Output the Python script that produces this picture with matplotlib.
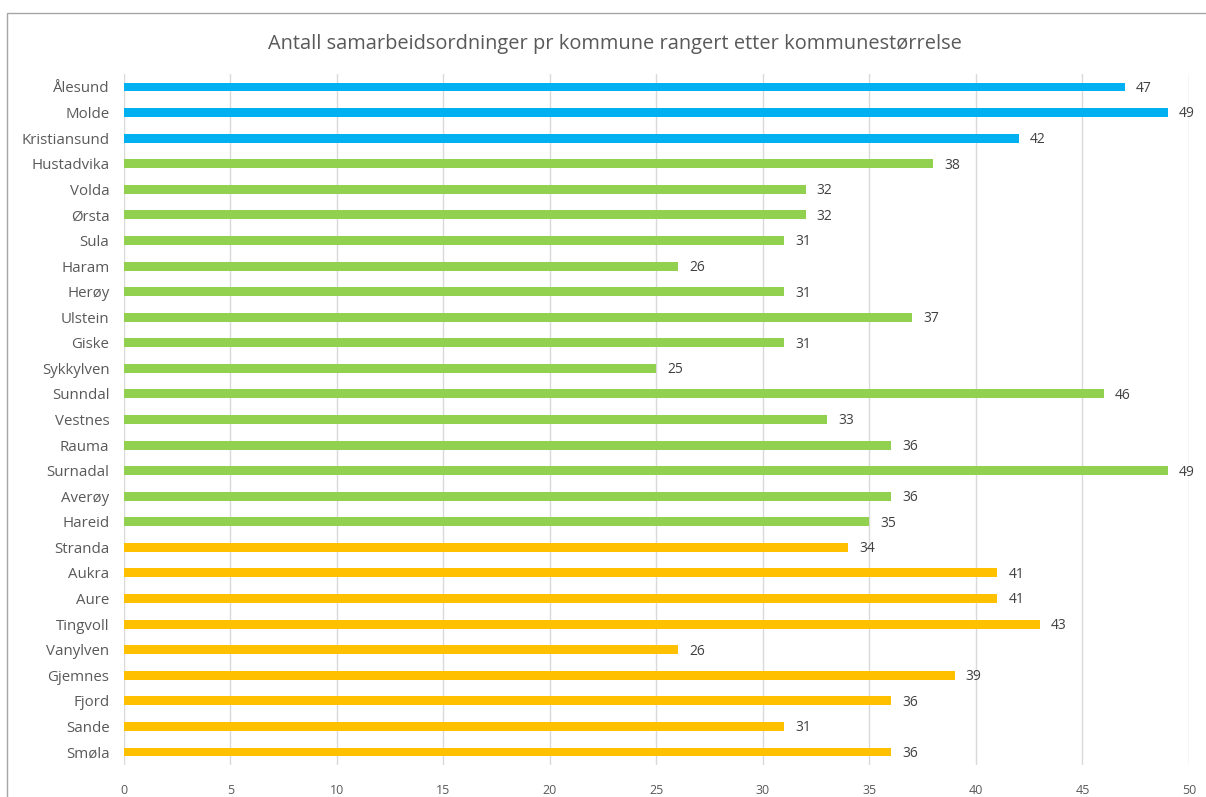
import matplotlib.pyplot as plt
from matplotlib.patches import Rectangle

# Kommuner, fra størst til minst
kommuner = ['Ålesund', 'Molde', 'Kristiansund', 'Hustadvika', 'Volda', 'Ørsta',
            'Sula', 'Haram', 'Herøy', 'Ulstein', 'Giske', 'Sykkylven', 'Sunndal',
            'Vestnes', 'Rauma', 'Surnadal', 'Averøy', 'Hareid', 'Stranda', 'Aukra',
            'Aure', 'Tingvoll', 'Vanylven', 'Gjemnes', 'Fjord', 'Sande', 'Smøla']
antall = [47, 49, 42, 38, 32, 32, 31, 26, 31, 37, 31, 25, 46, 33, 36, 49, 36, 35,
          34, 41, 41, 43, 26, 39, 36, 31, 36]
# størrelsesgruppe per kommune
gruppe = ['stor'] * 3 + ['middels'] * 15 + ['liten'] * 9
farger = {'stor': '#00B0F0', 'middels': '#92D050', 'liten': '#FFC000'}
xticks = [0, 5, 10, 15, 20, 25, 30, 35, 40, 45, 50]

plt.rcParams['font.family'] = ['Open Sans', 'DejaVu Sans']
tekst = '#595959'

fig = plt.figure(figsize=(12.06, 7.97), dpi=100)
ax = fig.add_axes([0.1028, 0.0404, 0.8831, 0.8665])

y = list(range(len(kommuner)))
ax.barh(y, antall, height=0.35, color=[farger[g] for g in gruppe], zorder=3)

for yi, v in zip(y, antall):
    ax.annotate(str(v), (v, yi), xytext=(8, -1), textcoords='offset points',
                va='center', ha='left', fontsize=10, color='#404040')

ax.set_xlim(0, 50)
ax.set_ylim(len(kommuner) - 0.5, -0.5)
ax.set_xticks(xticks)
ax.set_yticks(y)
ax.set_yticklabels(kommuner)
ax.tick_params(axis='y', length=0, pad=10.5, labelsize=10.8, labelcolor=tekst)
ax.tick_params(axis='x', length=0, pad=14, labelsize=9, labelcolor=tekst)
ax.grid(axis='x', color='#d9d9d9', linewidth=1, zorder=0)
for s in ax.spines.values():
    s.set_visible(False)

fig.text(0.51, 0.945, 'Antall samarbeidsordninger pr kommune rangert etter kommunestørrelse',
         ha='center', va='center', fontsize=14.4, color=tekst)

# ramme rundt diagrammet
fig.patches.append(Rectangle((7 / 1206, -0.05), 1.1, 1 - 13 / 797 + 0.05,
                             transform=fig.transFigure, fill=False,
                             edgecolor='#a6a6a6', linewidth=1))

fig.savefig('out.png', dpi=100)
